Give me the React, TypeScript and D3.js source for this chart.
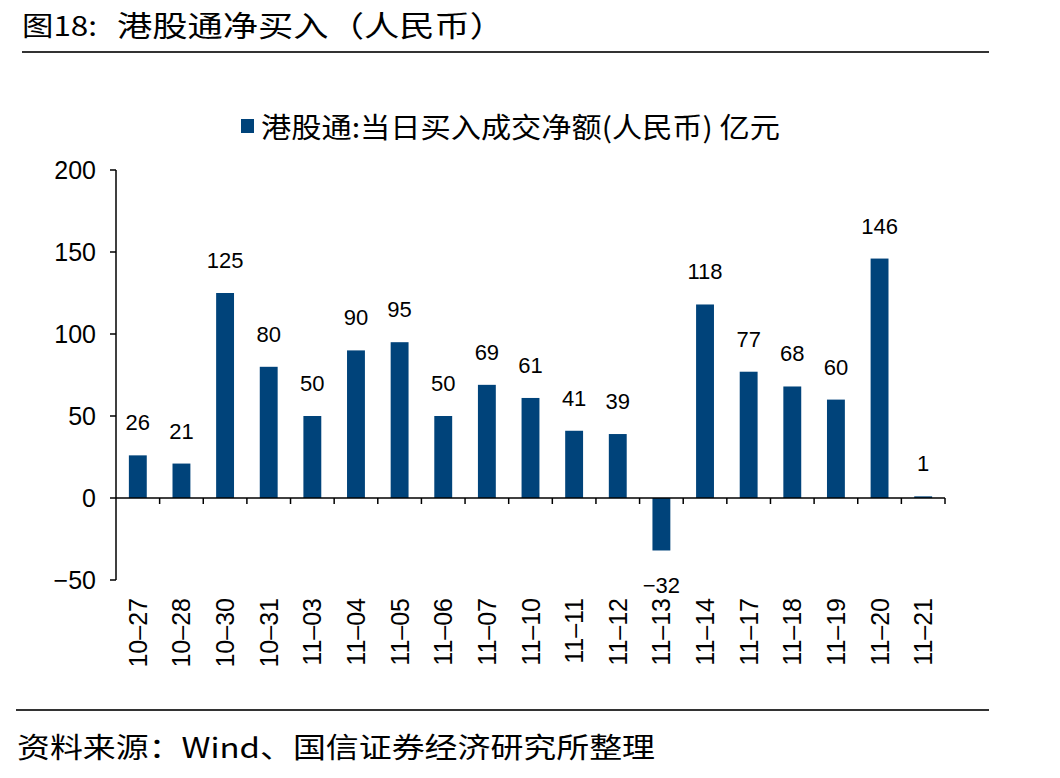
import React from "react";
import * as d3 from "d3";

const categories = ["10-27","10-28","10-30","10-31","11-03","11-04","11-05","11-06","11-07","11-10","11-11","11-12","11-13","11-14","11-17","11-18","11-19","11-20","11-21"];
const values = [26, 21, 125, 80, 50, 90, 95, 50, 69, 61, 41, 39, -32, 118, 77, 68, 60, 146, 1];
const yTicks = [-50, 0, 50, 100, 150, 200];
const legendLabel = "港股通:当日买入成交净额(人民币) 亿元";
const titlePrefix = "图18:";
const titleText = "港股通净买入（人民币）";
const sourceText = "资料来源：Wind、国信证券经济研究所整理";

const W = 1060, H = 778;
const left = 116, right = 945, top = 170, bottom = 580;
const BAR = "#00437a";
const FONT = "'Liberation Sans', Arial, sans-serif";
const CJK = "'Noto Sans CJK SC', sans-serif";

export default function App() {
  const x = d3.scaleBand<string>().domain(categories).range([left, right]).paddingInner(0.59).paddingOuter(0.295);
  const y = d3.scaleLinear().domain([-50, 200]).range([bottom, top]);
  const fmt = d3.format("d");
  const y0 = y(0);
  const step = x.step();
  const boundaries = d3.range(categories.length + 1).map(i => left + i * step);
  return (
    <svg width={W} height={H} style={{ display: "block", position: "absolute", left: 0, top: 0, background: "#fff" }}>
      <rect x={0} y={0} width={W} height={H} fill="#fff" />
      {/* title */}
      <text x={22} y={36} fontFamily={CJK} fontSize={27} fill="#000" textLength={75} lengthAdjust="spacingAndGlyphs">{titlePrefix}</text>
      <text x={117} y={37} fontFamily={CJK} fontSize={29} fill="#000" textLength={388} lengthAdjust="spacingAndGlyphs">{titleText}</text>
      <line x1={22} x2={989} y1={52} y2={52} stroke="#333" strokeWidth={2} />
      {/* legend */}
      <rect x={241} y={119} width={13} height={14} fill={BAR} />
      <text x={261} y={138} fontFamily={CJK} fontSize={28} fill="#000" textLength={519} lengthAdjust="spacingAndGlyphs">{legendLabel}</text>
      {/* bars */}
      {values.map((v, i) => (
        <rect key={i} x={x(categories[i])} y={y(Math.max(0, v))} width={x.bandwidth()}
          height={Math.abs(y(v) - y0)} fill={BAR} />
      ))}
      {/* data labels */}
      {values.map((v, i) => (
        <text key={"l" + i} x={(x(categories[i]) as number) + x.bandwidth() / 2}
          y={v >= 0 ? y(v) - 25 : y(v) + 43} textAnchor="middle" fontFamily={FONT} fontSize={22} fill="#000">
          {v < 0 ? "\u2212" + Math.abs(v) : v}
        </text>
      ))}
      {/* y axis */}
      <line x1={left} x2={left} y1={top} y2={bottom} stroke="#000" strokeWidth={1.5} />
      {yTicks.map(t => (
        <g key={t}>
          <line x1={left - 6} x2={left} y1={y(t)} y2={y(t)} stroke="#000" strokeWidth={1.5} />
          <text x={96} y={y(t) + 9} textAnchor="end" fontFamily={FONT} fontSize={25} fill="#000">
            {t < 0 ? "\u2212" + Math.abs(t) : fmt(t)}
          </text>
        </g>
      ))}
      {/* x axis */}
      <line x1={left} x2={right} y1={y0} y2={y0} stroke="#000" strokeWidth={1.5} />
      {boundaries.slice(1).map((b, i) => (
        <line key={"t" + i} x1={b} x2={b} y1={y0} y2={y0 + 6} stroke="#000" strokeWidth={1.5} />
      ))}
      {categories.map((c, i) => {
        const cx = (x(c) as number) + x.bandwidth() / 2;
        return (
          <text key={"c" + i} transform={`translate(${cx + 9},598) rotate(-90)`} textAnchor="end"
            fontFamily={FONT} fontSize={25} fill="#000">{c.replace("-", "\u2013")}</text>
        );
      })}
      {/* footer */}
      <line x1={16} x2={989} y1={710} y2={710} stroke="#333" strokeWidth={2} />
      <text x={17} y={758} fontFamily={CJK} fontSize={28} fill="#000" textLength={638} lengthAdjust="spacingAndGlyphs">{sourceText}</text>
    </svg>
  );
}
